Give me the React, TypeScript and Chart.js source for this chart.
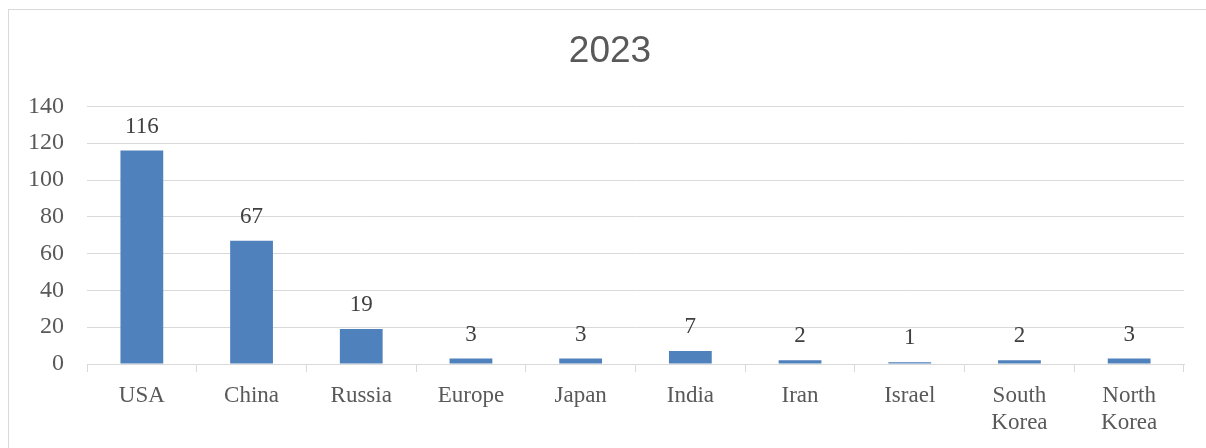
import React, { useEffect, useRef } from "react";
import { Chart, registerables } from "chart.js";

Chart.register(...registerables);

const title = "2023";
const categories: (string | string[])[] = [
  "USA",
  "China",
  "Russia",
  "Europe",
  "Japan",
  "India",
  "Iran",
  "Israel",
  ["South", "Korea"],
  ["North", "Korea"],
];
const values: number[] = [116, 67, 19, 3, 3, 7, 2, 1, 2, 3];
const yMin = 0;
const yMax = 140;
const yStep = 20;

const barColor = "#4F81BD";
const gridColor = "#D9D9D9";
const tickColor = "#595959";
const labelColor = "#404040";
const serif = "'Liberation Serif', 'Times New Roman', serif";

const dataLabelPlugin = {
  id: "dataLabels",
  afterDatasetsDraw(chart: any) {
    const ctx = chart.ctx;
    const meta = chart.getDatasetMeta(0);
    ctx.save();
    ctx.font = `23px ${serif}`;
    ctx.fillStyle = labelColor;
    ctx.textAlign = "center";
    ctx.textBaseline = "middle";
    meta.data.forEach((bar: any, i: number) => {
      const v = chart.data.datasets[0].data[i];
      ctx.fillText(String(v), bar.x, bar.y - 24);
    });
    ctx.restore();
  },
};

// Centre the title over the whole chart frame (as in the reference), not the padded box
const titleShiftPlugin = {
  id: "titleShift",
  afterLayout(chart: any) {
    if (chart.titleBlock) {
      chart.titleBlock.left = 36;
    }
  },
};

export default function App() {
  const canvasRef = useRef<HTMLCanvasElement | null>(null);

  useEffect(() => {
    if (!canvasRef.current) return;
    const chart = new Chart(canvasRef.current, {
      type: "bar",
      data: {
        labels: categories,
        datasets: [
          {
            data: values,
            backgroundColor: barColor,
            borderWidth: 0,
            barPercentage: 0.39,
            categoryPercentage: 1,
          },
        ],
      },
      options: {
        animation: false,
        responsive: false,
        maintainAspectRatio: false,
        layout: { padding: { left: 0, right: 22, top: 0, bottom: 0 } },
        plugins: {
          legend: { display: false },
          tooltip: { enabled: false },
          title: {
            display: true,
            text: title,
            color: "#595959",
            font: { family: "'Liberation Sans', Arial, sans-serif", size: 37, weight: "normal" as any, lineHeight: 1.2 },
            padding: { top: 30, bottom: 32 },
          },
        },
        scales: {
          x: {
            grid: {
              display: true,
              drawOnChartArea: false,
              drawTicks: true,
              tickLength: 8,
              color: gridColor,
              offset: true,
            },
            border: { display: true, color: gridColor, width: 1 },
            ticks: {
              color: tickColor,
              font: { family: serif, size: 23, lineHeight: 1.2 },
              padding: 10,
              maxRotation: 0,
              autoSkip: false,
            },
            afterFit(scale: any) {
              scale.height = 84;
            },
          },
          y: {
            min: yMin,
            max: yMax,
            grid: { color: gridColor, drawTicks: false, lineWidth: 1 },
            border: { display: false },
            ticks: {
              stepSize: yStep,
              color: tickColor,
              font: { family: serif, size: 24 },
              padding: 23,
            },
            afterFit(scale: any) {
              scale.width = 87;
            },
          },
        },
      },
      plugins: [dataLabelPlugin, titleShiftPlugin],
    });
    return () => chart.destroy();
  }, []);

  return (
    <div style={{ position: "fixed", left: 0, top: 0, width: 1206, height: 448, overflow: "hidden", background: "#fff" }}>
      <div
        style={{
          position: "absolute",
          left: 8,
          top: 9,
          width: 1230,
          height: 470,
          border: "1.5px solid #D9D9D9",
          boxSizing: "border-box",
        }}
      />
      <canvas
        ref={canvasRef}
        width={1206}
        height={448}
        style={{ position: "absolute", left: 0, top: 0, width: 1206, height: 448 }}
      />
    </div>
  );
}
